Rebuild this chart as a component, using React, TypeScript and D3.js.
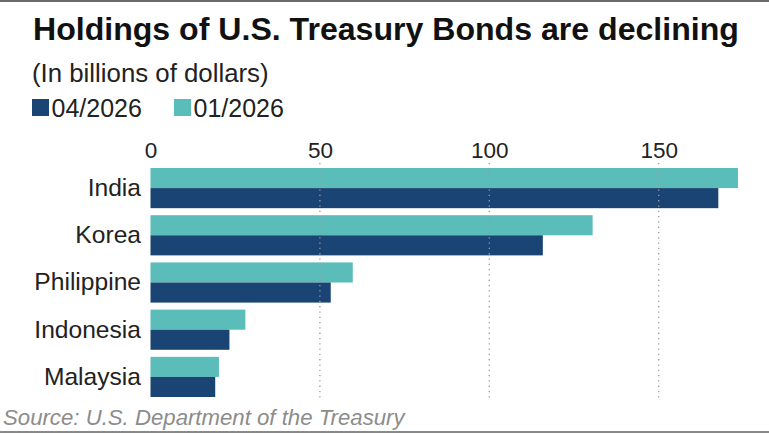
import { useEffect, useRef } from "react"
import * as d3 from "d3"

const countries = ["India", "Korea", "Philippine", "Indonesia", "Malaysia"]
const seriesNames = ["01/2026", "04/2026"]
const jan2026 = [173.4, 130.5, 59.7, 28.0, 20.2]
const apr2026 = [167.6, 115.8, 53.2, 23.3, 19.1]
const xTicks = [0, 50, 100, 150]

const colors: Record<string, string> = {
  "01/2026": "#5bbdba",
  "04/2026": "#1a4473",
}

const font = "'Liberation Sans', Arial, Helvetica, sans-serif"

export default function App() {
  const ref = useRef<SVGSVGElement | null>(null)

  useEffect(() => {
    const svg = d3.select(ref.current)
    svg.selectAll("*").remove()

    const width = 769
    const height = 434

    svg.attr("width", width).attr("height", height)

    svg.append("rect")
      .attr("width", width).attr("height", height)
      .attr("fill", "#fff")

    // frame lines top and bottom
    svg.append("rect")
      .attr("x", 0).attr("y", 0).attr("width", width).attr("height", 2)
      .attr("fill", "#6b6b6b")
    svg.append("rect")
      .attr("x", 0).attr("y", 431).attr("width", width).attr("height", 2)
      .attr("fill", "#8a8a8a")

    // title + subtitle
    svg.append("text")
      .attr("x", 33).attr("y", 40)
      .attr("font-family", font)
      .attr("font-size", 32.1)
      .attr("font-weight", "bold")
      .attr("fill", "#111")
      .text("Holdings of U.S. Treasury Bonds are declining")

    svg.append("text")
      .attr("x", 32).attr("y", 82)
      .attr("font-family", font)
      .attr("font-size", 25.8)
      .attr("fill", "#222")
      .text("(In billions of dollars)")

    // legend
    const legendItems = [
      { name: "04/2026", x: 32 },
      { name: "01/2026", x: 174 },
    ]
    const lg = svg.append("g")
    legendItems.forEach(d => {
      lg.append("rect")
        .attr("x", d.x).attr("y", 99)
        .attr("width", 17).attr("height", 17)
        .attr("fill", colors[d.name])
      lg.append("text")
        .attr("x", d.x + 19.5).attr("y", 116.5)
        .attr("font-family", font)
        .attr("font-size", 25)
        .attr("fill", "#222")
        .text(d.name)
    })

    const x = d3.scaleLinear()
      .domain([0, 175])
      .range([150.5, 743.4])

    const y = d3.scaleBand()
      .domain(countries)
      .range([168, 397])
      .paddingInner(0.149)
      .paddingOuter(0)

    const sub = d3.scaleBand()
      .domain(seriesNames)
      .range([0, y.bandwidth()])

    const rows = countries.map((c, i) => ({
      country: c,
      values: [
        { series: "01/2026", value: jan2026[i] },
        { series: "04/2026", value: apr2026[i] },
      ],
    }))

    // bars
    const groups = svg.append("g")
      .selectAll("g")
      .data(rows)
      .enter()
      .append("g")
      .attr("transform", d => `translate(0,${y(d.country)})`)

    groups.selectAll("rect")
      .data(d => d.values)
      .enter()
      .append("rect")
      .attr("x", x(0))
      .attr("y", d => sub(d.series)!)
      .attr("width", d => x(d.value) - x(0))
      .attr("height", sub.bandwidth())
      .attr("fill", d => colors[d.series])

    // dotted grid on top of bars
    svg.append("g")
      .selectAll("line")
      .data(xTicks.filter(t => t > 0))
      .enter()
      .append("line")
      .attr("x1", d => x(d)).attr("x2", d => x(d))
      .attr("y1", 163).attr("y2", 399)
      .attr("stroke", "#9a9a9a")
      .attr("stroke-width", 1.3)
      .attr("stroke-dasharray", "1.3,4")

    // X Axis
    const xAxis = svg.append("g")
      .attr("transform", "translate(0,158)")
      .call(d3.axisTop(x).tickValues(xTicks).tickSize(0).tickPadding(0).tickFormat(d3.format("d")))

    xAxis.select(".domain").remove()
    xAxis.selectAll("text")
      .attr("font-family", font)
      .attr("font-size", 22.5)
      .style("fill", "#222")

    // Y Axis
    const yAxis = svg.append("g")
      .attr("transform", `translate(${x(0)},0)`)
      .call(d3.axisLeft(y).tickSize(0).tickPadding(9.5))

    yAxis.select(".domain").remove()
    yAxis.selectAll("text")
      .attr("font-family", font)
      .attr("font-size", 24.6)
      .style("fill", "#222")

    // source
    svg.append("text")
      .attr("x", 3).attr("y", 425)
      .attr("font-family", font)
      .attr("font-size", 22.2)
      .attr("font-style", "italic")
      .attr("fill", "#8c8c8c")
      .text("Source: U.S. Department of the Treasury")
  }, [])

  return <svg ref={ref} style={{ position: "absolute", left: 0, top: 0 }} />
}
